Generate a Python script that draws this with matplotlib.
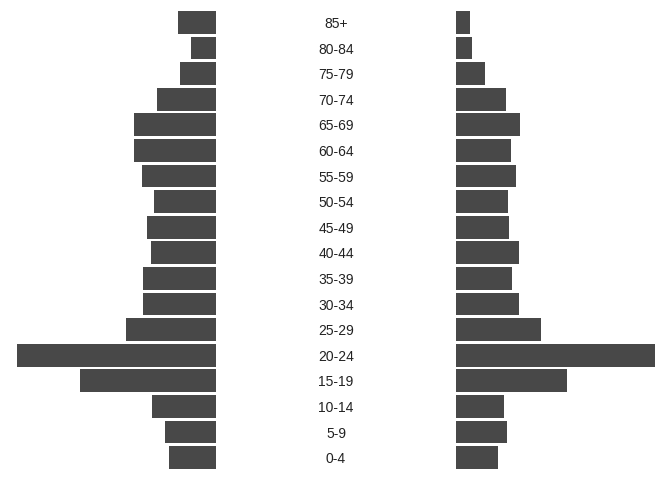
import matplotlib.pyplot as plt

# age groups from bottom (youngest) to top
ages = ['0-4', '5-9', '10-14', '15-19', '20-24', '25-29', '30-34', '35-39',
        '40-44', '45-49', '50-54', '55-59', '60-64', '65-69', '70-74',
        '75-79', '80-84', '85+']
left_vals = [47, 51, 64, 136, 199, 90, 73, 73, 65, 69, 62, 74, 82, 82, 59,
             36, 25, 38]
right_vals = [42, 51, 48, 111, 199, 85, 63, 56, 63, 53, 52, 60, 55, 64, 50,
              29, 16, 14]

W, H = 672, 480
bar_color = '#484848'
bh = 0.89
n = len(ages)
y = list(range(n))
vmax = max(max(left_vals), max(right_vals))

fig = plt.figure(figsize=(W / 100, H / 100), dpi=100)
bottom = 1 - 469 / H
height = (469 - 11) / H

ax_l = fig.add_axes([17 / W, bottom, (216 - 17) / W, height])
ax_m = fig.add_axes([216 / W, bottom, (456 - 216) / W, height])
ax_r = fig.add_axes([456 / W, bottom, (655 - 456) / W, height])

ax_l.barh(y, left_vals, height=bh, color=bar_color)
ax_l.set_xlim(vmax, 0)
ax_r.barh(y, right_vals, height=bh, color=bar_color)
ax_r.set_xlim(0, vmax)

# labels sit with their baseline a little below the bar centre
for i, a in enumerate(ages):
    ax_m.text(0.5, i - 0.22, a, ha='center', va='baseline', fontsize=10,
              family='Liberation Sans', color='#222222',
              transform=ax_m.get_yaxis_transform())

for ax in (ax_l, ax_m, ax_r):
    ax.set_ylim(-bh / 2, n - 1 + bh / 2)
    ax.axis('off')

plt.savefig('out.png', dpi=100, facecolor='white')
